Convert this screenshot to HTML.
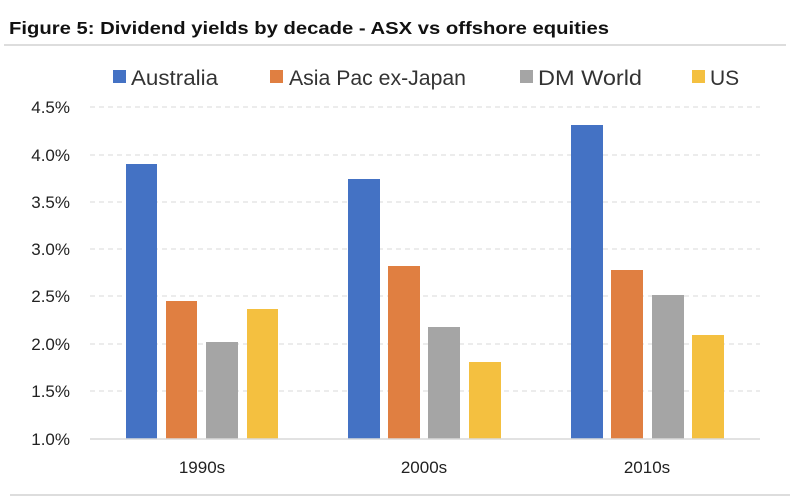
<!DOCTYPE html>
<html><head><style>
html,body{margin:0;padding:0;background:#fff;width:800px;height:500px;overflow:hidden}
svg{display:block}
</style></head><body>
<svg width="800" height="500" xmlns="http://www.w3.org/2000/svg" font-family="Liberation Sans, sans-serif">
<text x="9" y="34" font-size="17.5" font-weight="bold" fill="#111" textLength="600" lengthAdjust="spacingAndGlyphs">Figure 5: Dividend yields by decade - ASX vs offshore equities</text>
<line x1="4" y1="45" x2="786" y2="45" stroke="#ddd" stroke-width="2"/>
<g font-size="21" fill="#333">
<rect x="113" y="70" width="13" height="13" fill="#4472C4"/><text x="131" y="85" textLength="87" lengthAdjust="spacingAndGlyphs">Australia</text>
<rect x="270" y="70" width="13" height="13" fill="#E07F41"/><text x="289" y="85" textLength="177" lengthAdjust="spacingAndGlyphs">Asia Pac ex-Japan</text>
<rect x="520" y="70" width="13" height="13" fill="#A5A5A5"/><text x="538" y="85" textLength="104" lengthAdjust="spacingAndGlyphs">DM World</text>
<rect x="692" y="70" width="13" height="13" fill="#F4C040"/><text x="710" y="85">US</text>
</g>
<g stroke="#d9d9d9" stroke-dasharray="5,4" stroke-width="1">
<line x1="90" y1="107" x2="760" y2="107"/>
<line x1="90" y1="155" x2="760" y2="155"/>
<line x1="90" y1="202" x2="760" y2="202"/>
<line x1="90" y1="249" x2="760" y2="249"/>
<line x1="90" y1="296" x2="760" y2="296"/>
<line x1="90" y1="344" x2="760" y2="344"/>
<line x1="90" y1="391" x2="760" y2="391"/>
</g>
<g font-size="17" fill="#222" text-anchor="end">
<text x="70" y="113">4.5%</text><text x="70" y="161">4.0%</text><text x="70" y="208">3.5%</text>
<text x="70" y="255">3.0%</text><text x="70" y="302">2.5%</text><text x="70" y="350">2.0%</text>
<text x="70" y="397">1.5%</text><text x="70" y="445">1.0%</text>
</g>
<g>
<rect x="126" y="164" width="31" height="275" fill="#4472C4"/>
<rect x="166" y="301" width="31" height="138" fill="#E07F41"/>
<rect x="206" y="342" width="32" height="97" fill="#A5A5A5"/>
<rect x="247" y="309" width="31" height="130" fill="#F4C040"/>
<rect x="348" y="179" width="32" height="260" fill="#4472C4"/>
<rect x="388" y="266" width="32" height="173" fill="#E07F41"/>
<rect x="428" y="327" width="32" height="112" fill="#A5A5A5"/>
<rect x="469" y="362" width="32" height="77" fill="#F4C040"/>
<rect x="571" y="125" width="32" height="314" fill="#4472C4"/>
<rect x="611" y="270" width="32" height="169" fill="#E07F41"/>
<rect x="652" y="295" width="32" height="144" fill="#A5A5A5"/>
<rect x="692" y="335" width="32" height="104" fill="#F4C040"/>
</g>
<line x1="90" y1="439" x2="760" y2="439" stroke="#d9d9d9" stroke-width="1.5"/>
<g font-size="17" fill="#222" text-anchor="middle">
<text x="202" y="473">1990s</text><text x="424" y="473">2000s</text><text x="647" y="473">2010s</text>
</g>
<line x1="10" y1="495" x2="790" y2="495" stroke="#ddd" stroke-width="2"/>
</svg>
</body></html>
